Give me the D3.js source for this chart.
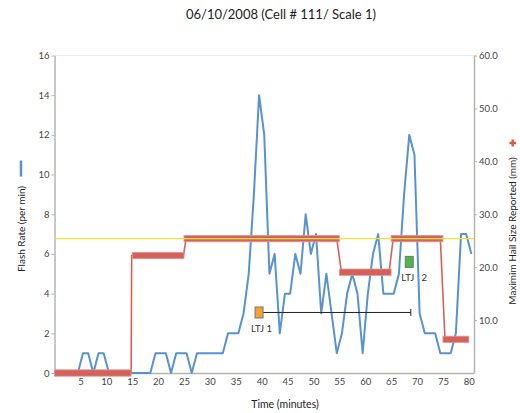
<!DOCTYPE html>
<html>
<head>
<meta charset="utf-8">
<script src="https://cdn.jsdelivr.net/npm/d3@7"></script>
<style>
  body { margin: 0; background: #fff; }
  svg { font-family: Lato, "Noto Sans", sans-serif; }
</style>
</head>
<body>
<svg id="chart" width="520" height="413"></svg>
<script>
// flash rate, one point per minute
let flashTime = [0.5, 1.5, 2.5, 3.5, 4.5, 5.5, 6.5, 7.5, 8.5, 9.5, 10.5, 11.5, 12.5, 13.5, 14.5,
    15.5, 16.5, 17.5, 18.5, 19.5, 20.5, 21.5, 22.5, 23.5, 24.5, 25.5, 26.5, 27.5, 28.5, 29.5,
    30.5, 31.5, 32.5, 33.5, 34.5, 35.5, 36.5, 37.5, 38.5, 39.5, 40.5, 41.5, 42.5, 43.5, 44.5,
    45.5, 46.5, 47.5, 48.5, 49.5, 50.5, 51.5, 52.5, 53.5, 54.5, 55.5, 56.5, 57.5, 58.5, 59.5,
    60.5, 61.5, 62.5, 63.5, 64.5, 65.5, 66.5, 67.5, 68.5, 69.5, 70.5, 71.5, 72.5, 73.5, 74.5,
    75.5, 76.5, 77.5, 78.5, 79.5, 80.5];
let flashRate = [0, 0, 0, 0, 0, 1, 1, 0, 1, 1, 0, 0, 0, 0, 0,
    0, 0, 0, 0, 1, 1, 1, 0, 1, 1, 1, 0, 1, 1, 1,
    1, 1, 1, 2, 2, 2, 3, 5, 9, 14, 12, 5, 6, 2, 4,
    4, 6, 5, 8, 6, 7, 3, 5, 3, 1, 2, 4, 5, 4, 1,
    4, 6, 7, 4, 4, 4, 5, 9, 12, 11, 3, 2, 2, 2, 1,
    1, 1, 2, 7, 7, 6];

// reported hail size (mm), as duration bars
let hailStart = [0, 15, 25, 55, 65, 75];
let hailEnd = [14.8, 25, 55, 65, 75, 80];
let hailSize = [0, 22.2, 25.4, 19.05, 25.4, 6.35];

// thin line joining the bars
let hailLineTime = [0, 14.8, 14.9, 24.9, 25.4, 54.5, 55.4, 64.6, 65.4, 74.5, 75.4, 80];
let hailLineSize = [0, 0, 22.2, 22.2, 25.4, 25.4, 19.05, 19.05, 25.4, 25.4, 6.35, 6.35];

let severeHail = 25.4;

// lightning jumps
let ltjTime = [39.5, 68.5];
let ltjRate = [3.05, 5.6];
let ltjLabel = ["LTJ 1", "LTJ   2"];
let ltjColor = ["#f5a133", "#4db848"];
let ltjErrorEnd = [68.8, null];

let xTicks = [5, 10, 15, 20, 25, 30, 35, 40, 45, 50, 55, 60, 65, 70, 75, 80];
let leftTicks = [0, 2, 4, 6, 8, 10, 12, 14, 16];
let rightTicks = [10, 20, 30, 40, 50, 60];

let svg = d3.select("#chart");

let plot = { left: 54.5, right: 474, top: 55.5, bottom: 373 };

let x = d3.scaleLinear().domain([0, 81]).range([plot.left, plot.right]);
let yL = d3.scaleLinear().domain([0, 16]).range([plot.bottom, plot.top]);
let yR = d3.scaleLinear().domain([0, 60]).range([plot.bottom, plot.top]);

// title
svg.append("text")
    .attr("x", 281).attr("y", 19)
    .attr("text-anchor", "middle")
    .style("font-size", "13px")
    .style("fill", "#222")
    .text("06/10/2008 (Cell # 111/ Scale 1)");

// top frame line
svg.append("line")
    .attr("x1", plot.left).attr("x2", plot.right)
    .attr("y1", plot.top).attr("y2", plot.top)
    .style("stroke", "#ececec");

function styleAxis(g) {
    g.select(".domain").style("stroke", "#b4b4b4").style("stroke-width", 1.5);
    g.selectAll(".tick line").style("stroke", "#b4b4b4");
    g.selectAll(".tick text").style("fill", "#444").style("font-size", "9.5px")
        .style("font-family", "Lato, 'Noto Sans', sans-serif");
}

svg.append("g")
    .attr("transform", `translate(${plot.left},0)`)
    .call(d3.axisLeft(yL).tickValues(leftTicks).tickSize(3).tickPadding(2).tickSizeOuter(0))
    .call(styleAxis);

svg.append("g")
    .attr("transform", `translate(${plot.right},0)`)
    .call(d3.axisRight(yR).tickValues(rightTicks).tickSize(3).tickPadding(2)
        .tickSizeOuter(0).tickFormat(d3.format(".1f")))
    .call(styleAxis);

svg.append("g")
    .attr("transform", `translate(0,${plot.bottom})`)
    .call(d3.axisBottom(x).tickValues(xTicks).tickSize(0).tickPadding(5).tickSizeOuter(0))
    .call(styleAxis);

// flash rate line
let flashData = flashTime.map((t, i) => [t, flashRate[i]]);
svg.append("path")
    .datum(flashData)
    .attr("d", d3.line().x(d => x(d[0])).y(d => yL(d[1])))
    .style("fill", "none")
    .style("stroke", "#5893cf")
    .style("stroke-width", 2)
    .style("stroke-linejoin", "round");

// hail line and bars
let hailLine = hailLineTime.map((t, i) => [t, hailLineSize[i]]);
svg.append("path")
    .datum(hailLine)
    .attr("d", d3.line().x(d => x(d[0])).y(d => yR(d[1])))
    .style("fill", "none")
    .style("stroke", "#d2635c")
    .style("stroke-width", 1.6);

svg.append("g")
    .selectAll("rect")
    .data(hailSize)
    .enter()
    .append("rect")
        .attr("x", (d, i) => x(hailStart[i]))
        .attr("width", (d, i) => x(hailEnd[i]) - x(hailStart[i]))
        .attr("y", d => yR(d) - 3.2)
        .attr("height", 6.4)
        .style("fill", "#d3625b")
        .style("stroke", "#e39a94")
        .style("stroke-width", 0.8);

// 1 inch threshold
svg.append("line")
    .attr("x1", plot.left).attr("x2", plot.right)
    .attr("y1", yR(severeHail)).attr("y2", yR(severeHail))
    .style("stroke", "#f0e23a")
    .style("stroke-width", 1.2);

// LTJ error bar
ltjTime.forEach((t, i) => {
    if (ltjErrorEnd[i] === null) return;
    let yy = yL(ltjRate[i]);
    svg.append("line")
        .attr("x1", x(t)).attr("x2", x(ltjErrorEnd[i]))
        .attr("y1", yy).attr("y2", yy)
        .style("stroke", "#222").style("stroke-width", 1);
    svg.append("line")
        .attr("x1", x(ltjErrorEnd[i])).attr("x2", x(ltjErrorEnd[i]))
        .attr("y1", yy - 3.5).attr("y2", yy + 3.5)
        .style("stroke", "#222").style("stroke-width", 1);
});

svg.append("g")
    .selectAll("rect")
    .data(ltjTime)
    .enter()
    .append("rect")
        .attr("x", d => x(d) - 4)
        .attr("y", (d, i) => yL(ltjRate[i]) - 5.5)
        .attr("width", 8)
        .attr("height", 11)
        .style("fill", (d, i) => ltjColor[i])
        .style("stroke", "#777")
        .style("stroke-width", 1);

svg.append("g")
    .selectAll("text")
    .data(ltjTime)
    .enter()
    .append("text")
        .attr("x", d => x(d) - 8)
        .attr("y", (d, i) => yL(ltjRate[i]) + 19.5)
        .style("font-size", "9.5px")
        .style("fill", "#333")
        .style("white-space", "pre")
        .text((d, i) => ltjLabel[i]);

// axis titles and legend marks
svg.append("text")
    .attr("transform", "translate(25,229) rotate(-90)")
    .attr("text-anchor", "middle")
    .style("font-size", "10px")
    .style("fill", "#222")
    .text("Flash Rate (per min)");

svg.append("line")
    .attr("x1", 21).attr("x2", 21)
    .attr("y1", 160.5).attr("y2", 176.5)
    .style("stroke", "#5893cf")
    .style("stroke-width", 2.5);

svg.append("text")
    .attr("transform", "translate(516,231) rotate(-90)")
    .attr("text-anchor", "middle")
    .style("font-size", "10px")
    .style("fill", "#222")
    .text("Maximim Hail Size Reported (mm)");

svg.append("path")
    .attr("d", "M509.5,143H516M512.7,139.5V146.5")
    .style("stroke", "#e0573a")
    .style("stroke-width", 2.5);

svg.append("text")
    .attr("x", 285).attr("y", 408)
    .attr("text-anchor", "middle")
    .style("font-size", "10.5px")
    .style("fill", "#222")
    .text("Time (minutes)");
</script>
</body>
</html>
